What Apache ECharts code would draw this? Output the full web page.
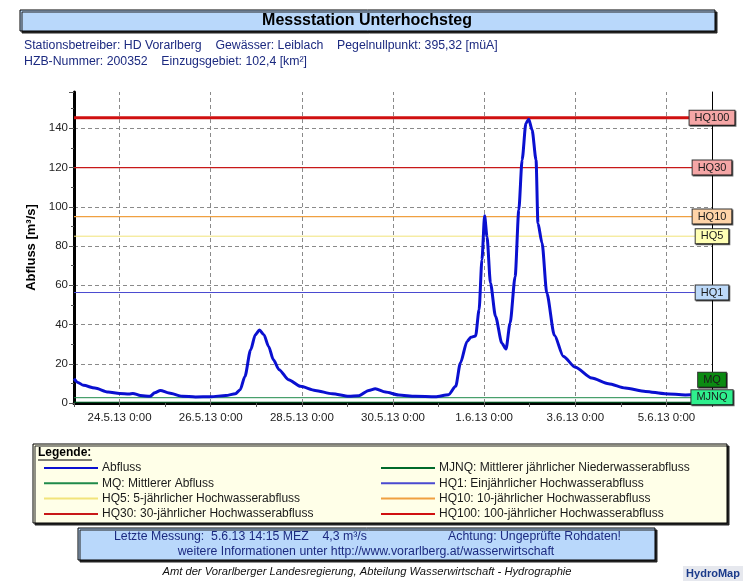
<!DOCTYPE html>
<html><head><meta charset="utf-8">
<script src="https://cdn.jsdelivr.net/npm/echarts@6/dist/echarts.min.js"></script>
<style>html,body{margin:0;padding:0;background:#fff}#c{width:747px;height:588px}</style>
</head><body><div id="c"></div>
<script>
// ---- data ----
const times = ['2013-05-23 00:00','2013-05-23 02:00','2013-05-23 05:00','2013-05-23 11:00','2013-05-23 18:00',
'2013-05-24 00:00','2013-05-24 05:00','2013-05-24 07:00','2013-05-24 11:00','2013-05-24 16:00','2013-05-24 18:30','2013-05-24 21:30',
'2013-05-25 02:00','2013-05-25 09:00','2013-05-25 16:00','2013-05-26 00:00','2013-05-26 08:00','2013-05-26 13:00','2013-05-26 15:30',
'2013-05-26 18:00','2013-05-26 21:00','2013-05-26 23:30','2013-05-27 01:40','2013-05-27 04:00','2013-05-27 06:30','2013-05-27 09:00',
'2013-05-27 12:00','2013-05-27 17:00','2013-05-27 23:15','2013-05-28 07:00','2013-05-28 16:00','2013-05-29 00:45','2013-05-29 06:00',
'2013-05-29 11:15','2013-05-29 14:40','2013-05-29 20:00','2013-05-30 03:00','2013-05-30 11:45','2013-05-30 22:20','2013-05-31 05:15',
'2013-05-31 09:00','2013-05-31 11:30','2013-05-31 15:00','2013-05-31 17:00','2013-05-31 19:30','2013-05-31 21:20','2013-05-31 22:50',
'2013-06-01 00:15','2013-06-01 01:30','2013-06-01 03:20','2013-06-01 06:00','2013-06-01 09:20','2013-06-01 11:30','2013-06-01 13:40',
'2013-06-01 16:20','2013-06-01 18:15','2013-06-01 20:00','2013-06-01 22:00','2013-06-01 23:30','2013-06-02 01:15','2013-06-02 03:20',
'2013-06-02 04:20','2013-06-02 06:30','2013-06-02 09:00','2013-06-02 13:00','2013-06-02 17:45','2013-06-03 00:00','2013-06-03 08:40',
'2013-06-03 17:30','2013-06-04 02:20','2013-06-04 13:00','2013-06-04 23:15','2013-06-05 10:00','2013-06-05 14:15'];
const flows = [12.4,10.5,9.0,7.6,5.6,
4.8,4.6,4.9,3.8,3.4,5.2,6.4,
5.1,3.5,3.1,3.2,3.8,4.7,6.8,
13.5,27.0,34.8,37.2,34.8,28.8,22.0,
17.0,11.9,8.5,6.4,4.7,3.4,3.7,
6.4,7.3,5.6,4.1,3.4,3.2,4.2,
8.5,20.4,31.4,33.5,34.2,47.5,73.0,
95.4,84.8,61.1,44.1,30.5,27.5,40.7,
64.5,98.4,123.9,142.6,144.6,139.2,123.9,
91.6,81.5,56.0,34.5,23.7,18.2,12.7,
9.8,7.6,5.9,4.7,4.1,4.3];
const thresholdNames = ['MJNQ','MQ','HQ1','HQ5','HQ10','HQ30','HQ100'];
const thresholdValues = [0.4, 2.7, 56.3, 85, 95, 120, 145.4];
const legendLeft = ['Abfluss','MQ: Mittlerer Abfluss','HQ5: 5-jährlicher Hochwasserabfluss','HQ30: 30-jährlicher Hochwasserabfluss'];
const legendRight = ['MJNQ: Mittlerer jährlicher Niederwasserabfluss','HQ1: Einjährlicher Hochwasserabfluss','HQ10: 10-jährlicher Hochwasserabfluss','HQ100: 100-jährlicher Hochwasserabfluss'];
const xTickLabels = ['24.5.13 0:00','26.5.13 0:00','28.5.13 0:00','30.5.13 0:00','1.6.13 0:00','3.6.13 0:00','5.6.13 0:00'];
const yTickLabels = [0,20,40,60,80,100,120,140];
const rangeStart = '2013-05-23 00:00', rangeEnd = '2013-06-06 00:00';

// ---- helpers ----
const FONT = 'Liberation Sans, Arial, sans-serif';
function ts(s){const [d,t]=s.split(' ');const [Y,M,D]=d.split('-').map(Number);const [h,m]=t.split(':').map(Number);return Date.UTC(Y,M-1,D,h,m);}
function fmt(v){const d=new Date(v);return d.getUTCDate()+'.'+(d.getUTCMonth()+1)+'.'+String(d.getUTCFullYear()).slice(2)+' '+d.getUTCHours()+':'+String(d.getUTCMinutes()).padStart(2,'0');}
function parseLabel(s){const [d,t]=s.split(' ');const [D,M,Y]=d.split('.').map(Number);const [h,m]=t.split(':').map(Number);return Date.UTC(2000+Y,M-1,D,h,m);}
const x0 = ts(rangeStart), x1 = ts(rangeEnd);
const DAY = 86400000;

const styles = {
  MJNQ:{line:'#006a2a',w:1,box:'#2ff08e',dy:-5},
  MQ:{line:'#1f8a4a',w:1,box:'#0b8a12',dy:-18},
  HQ1:{line:'#4a4ad0',w:1,box:'#bcd9f9',dy:0},
  HQ5:{line:'#f2e47a',w:1,box:'#ffffb4',dy:0},
  HQ10:{line:'#f0a040',w:1.2,box:'#ffd4a8',dy:0},
  HQ30:{line:'#c81818',w:1.2,box:'#f5a6a6',dy:0},
  HQ100:{line:'#d01010',w:3,box:'#f5a6a6',dy:0}
};
const legendFull = {MJNQ:legendRight[0],MQ:legendLeft[1],HQ1:legendRight[1],HQ5:legendLeft[2],HQ10:legendRight[2],HQ30:legendLeft[3],HQ100:legendRight[3]};

const series = [];
// vertical grid lines at labelled dates
series.push({type:'line',data:[],z:1,silent:true,
  markLine:{silent:true,symbol:'none',label:{show:false},
    lineStyle:{color:'#8a8a8a',type:[4,3],width:1},
    data:xTickLabels.map(l=>({xAxis:parseLabel(l)}))}});
thresholdNames.forEach((n,i)=>{
  series.push({name:legendFull[n],type:'line',symbol:'none',z:2,silent:true,
    lineStyle:{color:styles[n].line,width:styles[n].w},
    itemStyle:{color:styles[n].line},
    data:[[x0,thresholdValues[i]],[x1,thresholdValues[i]]]});
});
series.push({name:'Abfluss',type:'line',symbol:'none',z:5,smooth:0.25,smoothMonotone:'x',
  lineStyle:{color:'#0a10d0',width:3},itemStyle:{color:'#0a10d0'},
  data:times.map((t,i)=>[ts(t),flows[i]])});
// threshold name boxes on right axis
series.push({type:'custom',z:8,silent:true,clip:false,
  data:thresholdNames.map((n,i)=>[x1,thresholdValues[i],i]),
  renderItem:(params,api)=>{
    const i=api.value(2);const n=thresholdNames[i];const p=api.coord([api.value(0),api.value(1)]);
    return {type:'text',x:p[0],y:p[1]+styles[n].dy,style:{text:n,align:'center',verticalAlign:'middle',
      font:'11px '+FONT,fill:'#1a1a1a',backgroundColor:styles[n].box,borderColor:'#333',borderWidth:1,
      padding:[2,5,1,5],shadowColor:'rgba(0,0,0,0.6)',shadowOffsetX:1,shadowOffsetY:1}};
  }});

const legendCommon = {orient:'vertical',itemWidth:54,itemHeight:12,itemGap:3.3,itemStyle:{opacity:0},selectedMode:false,
  textStyle:{fontSize:12,color:'#1a1a1a',fontFamily:FONT,padding:[0,0,0,-1]}};
const chart = echarts.init(document.getElementById('c'));
chart.setOption({
  animation:false,
  backgroundColor:'#fff',
  textStyle:{fontFamily:FONT},
  grid:{left:74,right:35,top:92,bottom:185,containLabel:false},
  xAxis:{type:'value',min:x0,max:x1,interval:DAY,
    axisLine:{show:true,lineStyle:{color:'#000',width:3}},
    axisTick:{show:true,length:4,lineStyle:{color:'#555'}},
    splitLine:{show:false},
    axisLabel:{margin:9,fontSize:11.5,color:'#222',fontFamily:FONT,
      formatter:v=>{const s=fmt(v);return xTickLabels.includes(s)?s:'';}}},
  yAxis:[{type:'value',min:0,max:158.5,interval:20,
    name:'Abfluss [m³/s]',nameLocation:'middle',nameGap:36,
    nameTextStyle:{fontSize:13,fontWeight:'bold',color:'#000',fontFamily:FONT},
    axisLine:{show:true,lineStyle:{color:'#000',width:3}},
    axisTick:{show:true,length:5,lineStyle:{color:'#555'}},
    minorTick:{show:true,splitNumber:2,length:3,lineStyle:{color:'#555'}},
    splitLine:{show:true,showMaxLine:false,showMinLine:false,lineStyle:{color:'#8a8a8a',type:[4,3]}},
    axisLabel:{fontSize:11.5,color:'#222',margin:6,fontFamily:FONT,showMaxLabel:false,
      formatter:v=>yTickLabels.includes(v)?String(v):''}},
    {type:'value',min:0,max:158.5,position:'right',axisLine:{show:true,onZero:false,lineStyle:{color:'#000',width:1}},
     axisTick:{show:false},axisLabel:{show:false},splitLine:{show:false}}],
  legend:[
    Object.assign({data:legendLeft,left:38,top:457},legendCommon),
    Object.assign({data:legendRight,left:375,top:457},legendCommon)
  ],
  series:series,
  graphic:[
    {type:'rect',z:-1,shape:{x:20,y:10,width:695,height:21},style:{fill:'#b9d8fb',stroke:'#000',lineWidth:1,shadowColor:'#222',shadowOffsetX:2,shadowOffsetY:2}},
    {type:'text',z:1,x:367,y:21,style:{text:'Messstation Unterhochsteg',align:'center',verticalAlign:'middle',font:'bold 16px '+FONT,fill:'#000'}},
    {type:'text',x:24,y:46,style:{text:'Stationsbetreiber: HD Vorarlberg    Gewässer: Leiblach    Pegelnullpunkt: 395,32 [müA]',verticalAlign:'middle',font:'12.3px '+FONT,fill:'#1c2a80'}},
    {type:'text',x:24,y:62,style:{text:'HZB-Nummer: 200352    Einzugsgebiet: 102,4 [km²]',verticalAlign:'middle',font:'12.3px '+FONT,fill:'#1c2a80'}},
    {type:'rect',z:-1,shape:{x:33,y:444,width:694,height:79},style:{fill:'#ffffe8',stroke:'#000',lineWidth:1,shadowColor:'#222',shadowOffsetX:2,shadowOffsetY:2}},
    {type:'text',x:38,y:453,style:{text:'Legende:',verticalAlign:'middle',font:'bold 12px '+FONT,fill:'#000'}},
    {type:'line',shape:{x1:38,y1:460,x2:92,y2:460},style:{stroke:'#000',lineWidth:1}},
    {type:'rect',z:-1,shape:{x:78,y:528,width:577,height:32},style:{fill:'#b9d8fb',stroke:'#000',lineWidth:1,shadowColor:'#222',shadowOffsetX:2,shadowOffsetY:2}},
    {type:'text',x:114,y:537,style:{text:'Letzte Messung:  5.6.13 14:15 MEZ    4,3 m³/s',verticalAlign:'middle',font:'12.3px '+FONT,fill:'#1c2a80'}},
    {type:'text',x:621,y:537,style:{text:'Achtung: Ungeprüfte Rohdaten!',align:'right',verticalAlign:'middle',font:'12.3px '+FONT,fill:'#1c2a80'}},
    {type:'text',x:366,y:552,style:{text:'weitere Informationen unter http://www.vorarlberg.at/wasserwirtschaft',align:'center',verticalAlign:'middle',font:'12.3px '+FONT,fill:'#1c2a80'}},
    {type:'text',x:367,y:572,style:{text:'Amt der Vorarlberger Landesregierung, Abteilung Wasserwirtschaft - Hydrographie',align:'center',verticalAlign:'middle',font:'italic 11.2px '+FONT,fill:'#111'}},
    {type:'rect',z:-1,shape:{x:683,y:566,width:60,height:15},style:{fill:'#e6e8ee'}},
    {type:'text',x:713,y:574,style:{text:'HydroMap',align:'center',verticalAlign:'middle',font:'bold 11px '+FONT,fill:'#1a3a8a'}}
  ]
});
</script></body></html>
